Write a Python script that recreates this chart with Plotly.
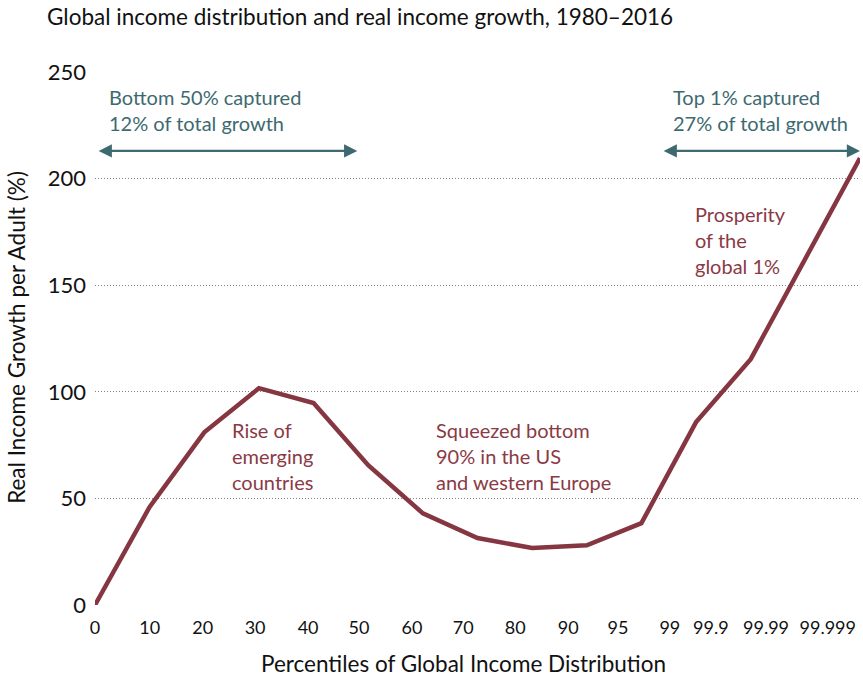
import plotly.graph_objects as go

# Data (x as evenly spaced point index along the percentile scale)
point_index = [0, 1, 2, 3, 4, 5, 6, 7, 8, 9, 10, 11, 12, 14]
growth_pct = [0, 46, 81, 101.7, 94.7, 65.6, 43, 31.4, 26.7, 28, 38.4, 85.8, 115.3, 209.6]

x_tick_labels = ["0", "10", "20", "30", "40", "50", "60", "70", "80", "90", "95",
                 "99", "99.9", "99.99", "99.999"]
x_tick_index = [0, 1.0, 1.97, 2.93, 3.9, 4.83, 5.8, 6.74, 7.69, 8.66, 9.57,
                10.52, 11.27, 12.28, 13.41]
y_ticks = [0, 50, 100, 150, 200, 250]

FONT = "Lato"
LINE_COLOR = "#853641"
RED_TEXT = "#8a3a45"
TEAL = "#3d6a70"

W, H = 863, 680

fig = go.Figure()
fig.add_trace(go.Scatter(
    x=point_index, y=growth_pct, mode="lines",
    line=dict(color=LINE_COLOR, width=4.5),
    cliponaxis=False, hoverinfo="skip", showlegend=False,
))

annos = []
# double-headed arrows
for x0, x1 in [(0.04, 4.8), (10.38, 14.0)]:
    annos.append(dict(x=x1, y=213, ax=x0, ay=213, xref="x", yref="y",
                      axref="x", ayref="y", showarrow=True, arrowside="end+start",
                      arrowhead=2, arrowsize=1.1, arrowwidth=2.4, arrowcolor=TEAL, text=""))

def txt(x, y, t, color):
    annos.append(dict(x=x, y=y, xref="x", yref="y", text=t, showarrow=False,
                      xanchor="left", yanchor="middle", align="left",
                      font=dict(family=FONT, size=20, color=color)))

txt(0.22, 232.3, "Bottom 50% captured<br>12% of total growth", TEAL)
txt(10.55, 232.3, "Top 1% captured<br>27% of total growth", TEAL)
txt(10.95, 171, "Prosperity<br>of the<br>global 1%", RED_TEXT)
txt(2.47, 70, "Rise of<br>emerging<br>countries", RED_TEXT)
txt(6.2, 70, "Squeezed bottom<br>90% in the US<br>and western Europe", RED_TEXT)

# x-axis title (slightly left of plot centre, as in the reference)
annos.append(dict(x=0.482, y=0, xref="paper", yref="paper", yshift=-58,
                  text="Percentiles of Global Income Distribution", showarrow=False,
                  xanchor="center", yanchor="middle",
                  font=dict(family=FONT, size=22.5, color="#111")))
# y-axis title
annos.append(dict(x=-0.102, y=0.503, xref="paper", yref="paper",
                  text="Real Income Growth per Adult (%)", showarrow=False,
                  textangle=-90, xanchor="center", yanchor="middle",
                  font=dict(family=FONT, size=22.5, color="#111")))

fig.update_layout(
    width=W, height=H,
    margin=dict(l=95, r=3, t=72, b=75),
    paper_bgcolor="white", plot_bgcolor="white",
    font=dict(family=FONT, color="#111"),
    title=dict(text="Global income distribution and real income growth, 1980–2016",
               x=47/W, xanchor="left", y=1 - 17/H, yanchor="middle",
               font=dict(family=FONT, size=22.5, color="#111")),
    annotations=annos,
    xaxis=dict(range=[0, 14], tickmode="array", tickvals=x_tick_index,
               ticktext=x_tick_labels, showgrid=False, zeroline=False,
               showline=False, ticks="", ticklabelstandoff=10,
               tickfont=dict(family=FONT, size=18, color="#111")),
    yaxis=dict(range=[0, 250], tickmode="array", tickvals=y_ticks,
               showgrid=True, gridcolor="#808080", griddash="1px,2px", gridwidth=1,
               zeroline=False, showline=False, ticks="", ticklabelstandoff=8,
               tickfont=dict(family=FONT, size=22, color="#111")),
)

# remove the browser's default 8px page margin so the figure fills the window
fig.write_html("out.html", config={"displayModeBar": False},
               post_script="document.body.style.margin='0';document.body.style.overflow='hidden';")
